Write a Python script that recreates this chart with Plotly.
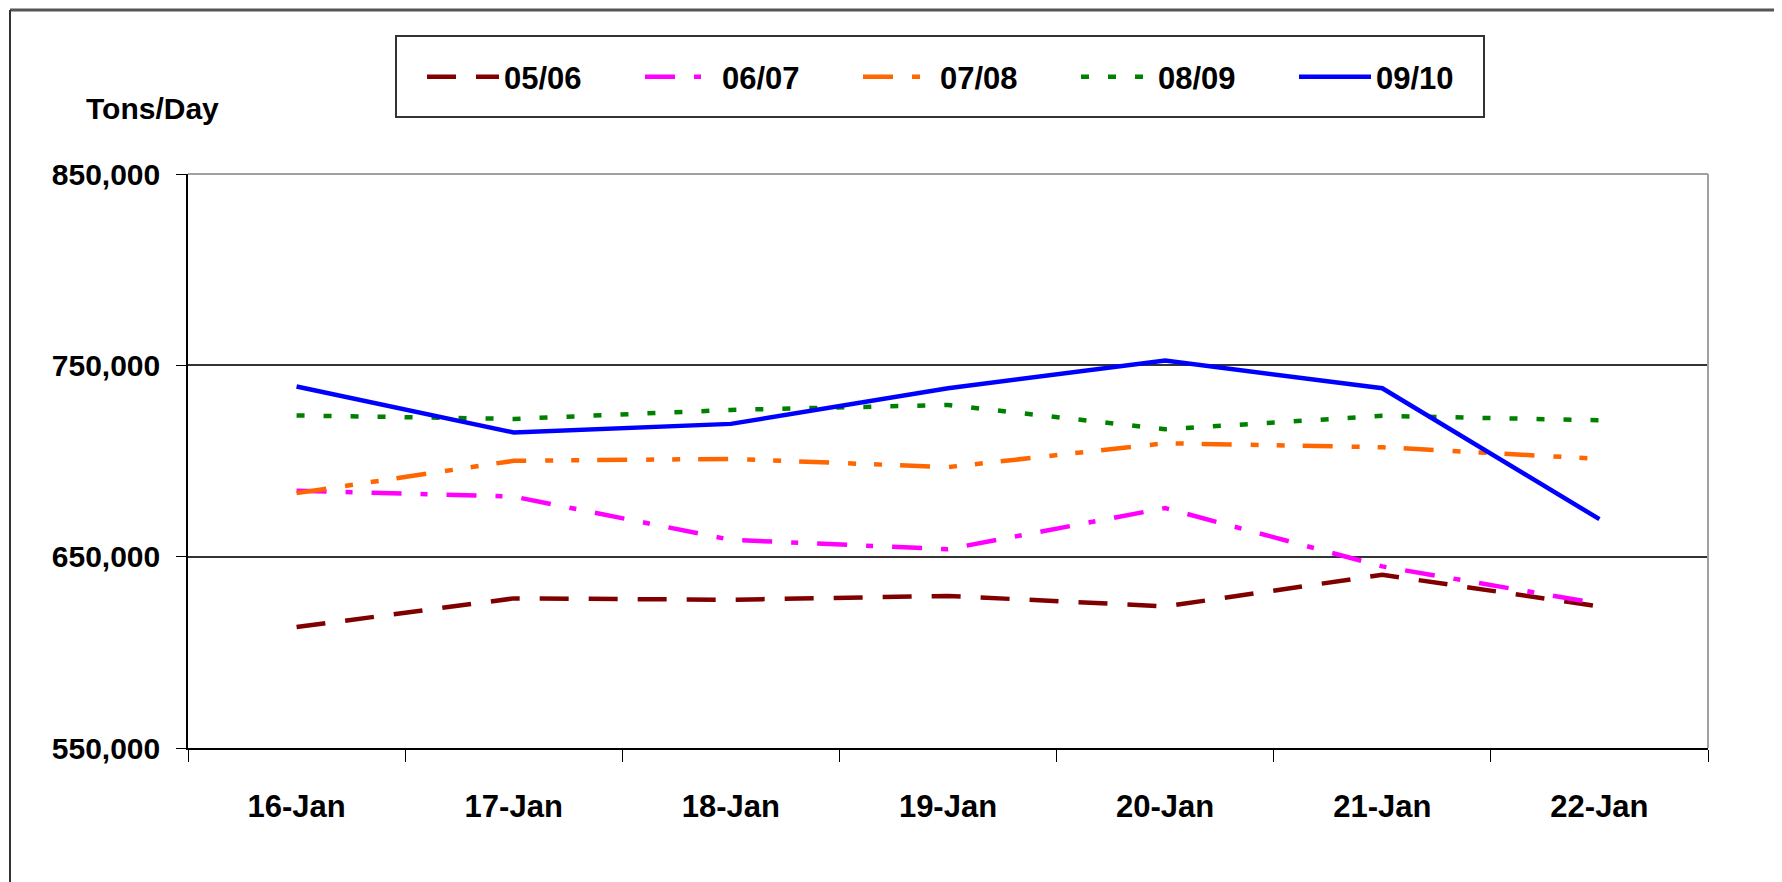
import plotly.graph_objects as go

days = ["16-Jan", "17-Jan", "18-Jan", "19-Jan", "20-Jan", "21-Jan", "22-Jan"]
s0506 = [613200, 628200, 627500, 629500, 624000, 640500, 624000]
s0607 = [684500, 681400, 658800, 653900, 675400, 644900, 625400]
s0708 = [683200, 700100, 701100, 696800, 709300, 707200, 701100]
s0809 = [723800, 722000, 726700, 729300, 716600, 723600, 721300]
s0910 = [738900, 714900, 719400, 738000, 752500, 738000, 669600]

series_names = ["05/06", "06/07", "07/08", "08/09", "09/10"]
series_vals = [s0506, s0607, s0708, s0809, s0910]
colors = ["#800000", "#FF00FF", "#FF6600", "#008000", "#0000FF"]
dashes = ["29px,20px", "30px,19px,7px,19px", "30px,19px,8px,18px,8px,18px", "8px,19px", "solid"]

FONT = "Liberation Sans, Arial, sans-serif"

fig = go.Figure()
for name, vals, c, d in zip(series_names, series_vals, colors, dashes):
    fig.add_trace(go.Scatter(x=days, y=vals, name=name, mode="lines",
                             line=dict(color=c, width=4.5, dash=d)))

# plot area in screen pixels (page body has an 8px offset)
OFF = 8
L, R, T, B = 188, 1708, 174, 748
W, H = 1782, 882
PW, PH = R - L, B - T
def px(x):
    return (x - L) / PW
def py(y):
    return (B - y) / PH

shapes = [
    # outer frame (top and left visible)
    dict(type="line", xref="paper", yref="paper", x0=px(10), x1=px(1800), y0=py(10), y1=py(10),
         line=dict(color="#555555", width=3)),
    dict(type="line", xref="paper", yref="paper", x0=px(10), x1=px(10), y0=py(10), y1=py(900),
         line=dict(color="#333333", width=2)),
    # legend box
    dict(type="rect", xref="paper", yref="paper", x0=px(396), x1=px(1484), y0=py(117), y1=py(36),
         line=dict(color="#333333", width=2), fillcolor="rgba(0,0,0,0)"),
    # plot frame top/right (gray)
    dict(type="line", xref="paper", yref="paper", x0=0, x1=1, y0=1, y1=1,
         line=dict(color="#A0A0A0", width=2), layer="above"),
    dict(type="line", xref="paper", yref="paper", x0=1, x1=1, y0=0, y1=1,
         line=dict(color="#A0A0A0", width=2), layer="above"),
]

fig.update_layout(
    width=W, height=H,
    margin=dict(l=L - OFF, r=W - R + OFF, t=T - OFF, b=H - B + OFF, pad=0),
    paper_bgcolor="white", plot_bgcolor="white",
    font=dict(family=FONT, size=31, color="black", weight="bold"),
    showlegend=True,
    legend=dict(orientation="h", x=px(422), xanchor="left", y=py(77), yanchor="middle",
                entrywidth=131, entrywidthmode="pixels", itemwidth=72,
                font=dict(family=FONT, size=31, color="black", weight="bold"),
                bgcolor="rgba(0,0,0,0)", borderwidth=0, traceorder="normal"),
    shapes=shapes,
    annotations=[dict(text="Tons/Day", xref="paper", yref="paper", x=px(152), y=py(108),
                      xanchor="center", yanchor="middle", showarrow=False,
                      font=dict(family=FONT, size=30, color="black", weight="bold"))],
    xaxis=dict(type="category", categoryorder="array", categoryarray=days,
               range=[-0.5, 6.5], showline=True, linecolor="black", linewidth=2,
               ticks="outside", ticklen=12, tickwidth=1, tickcolor="black",
               tickson="boundaries", showgrid=False, zeroline=False,
               ticklabelstandoff=30,
               tickfont=dict(family=FONT, size=31, color="black", weight="bold")),
    yaxis=dict(range=[550000, 850000], tickvals=[550000, 650000, 750000, 850000],
               tickformat=",d", showline=True, linecolor="black", linewidth=1.5,
               ticks="outside", ticklen=10, tickwidth=1, tickcolor="black",
               showgrid=True, gridcolor="#333333", gridwidth=1.5, zeroline=False,
               ticklabelstandoff=10,
               tickfont=dict(family=FONT, size=30, color="black", weight="bold")),
)

fig.write_html("out.html")
